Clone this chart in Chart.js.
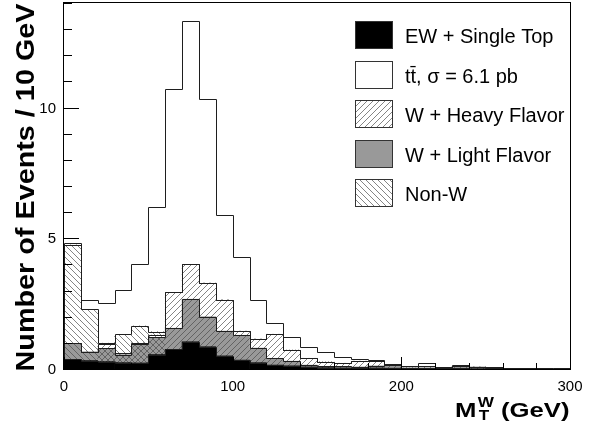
<!DOCTYPE html>
<html lang="en">
<head>
<meta charset="UTF-8">
<title>Transverse W mass</title>
<script src="https://cdn.jsdelivr.net/npm/chart.js"></script>
<style>
  html, body { margin: 0; padding: 0; background: #fff; }
  #wrap { width: 599px; height: 434px; }
</style>
</head>
<body>
<div id="wrap"><canvas id="mtw" width="599" height="434"></canvas></div>
<script>
// 10 GeV bins, lower edges (GeV)
const binLow = [0, 10, 20, 30, 40, 50, 60, 70, 80, 90,
                100, 110, 120, 130, 140, 150, 160, 170, 180, 190,
                200, 210, 220, 230, 240, 250, 260, 270, 280, 290];
const binHigh = 300;

// events per bin, stacked bottom to top
const ewSingleTop = [0.37, 0.32, 0.28, 0.24, 0.23, 0.55, 0.75, 1.04, 0.85, 0.50,
                     0.34, 0.24, 0.15, 0.12, 0.08, 0.05, 0.04, 0.03, 0.04, 0.03,
                     0.02, 0.02, 0.02, 0.02, 0.01, 0.01, 0.01, 0.01, 0.00, 0.00];
const wLightFlavor = [0.61, 0.34, 0.51, 0.31, 0.72, 0.66, 0.81, 1.63, 1.15, 0.95,
                      0.95, 0.56, 0.26, 0.18, 0.07, 0.05, 0.06, 0.05, 0.08, 0.12,
                      0.03, 0.03, 0.00, 0.08, 0.07, 0.02, 0.01, 0.00, 0.01, 0.01];
const wHeavyFlavor = [0.00, 0.00, 0.15, 0.05, 0.06, 0.09, 1.37, 1.33, 1.29, 1.20,
                      0.16, 0.35, 0.92, 0.43, 0.26, 0.18, 0.12, 0.22, 0.18, 0.00,
                      0.00, 0.05, 0.00, 0.00, 0.00, 0.00, 0.00, 0.00, 0.00, 0.00];
const nonW = [3.77, 1.62, 0.05, 0.72, 0.64, 0.13, 0.00, 0.00, 0.00, 0.00,
              0.00, 0.00, 0.00, 0.00, 0.00, 0.00, 0.00, 0.00, 0.00, 0.00,
              0.00, 0.00, 0.00, 0.00, 0.00, 0.00, 0.00, 0.00, 0.00, 0.00];
const ttbar = [0.06, 0.36, 1.55, 1.70, 2.37, 4.78, 7.78, 9.33, 7.05, 3.24,
               2.83, 1.49, 0.42, 0.48, 0.44, 0.37, 0.22, 0.07, 0.04, 0.04,
               0.08, 0.12, 0.04, 0.05, 0.01, 0.03, 0.02, 0.02, 0.02, 0.01];

const yTicks = [0, 5, 10];
const xTicks = [0, 100, 200, 300];
const yMax = 14;
const legendLabels = ['EW + Single Top', 't\u0074\u0304, \u03c3 = 6.1 pb',
                      'W + Heavy Flavor', 'W + Light Flavor', 'Non-W'];

const canvas = document.getElementById('mtw');
const mainCtx = canvas.getContext('2d');
const FONT = '"Liberation Sans", Arial, Helvetica, sans-serif';

// hatch patterns like ROOT's 3004 / 3005
function hatch(dirs, bg, ink) {
    const s = 6;
    const c = document.createElement('canvas');
    c.width = s; c.height = s;
    const g = c.getContext('2d');
    if (bg) { g.fillStyle = bg; g.fillRect(0, 0, s, s); }
    g.strokeStyle = ink;
    g.lineWidth = 0.8;
    g.beginPath();
    if (dirs.includes('/')) {
        g.moveTo(-1, s + 1); g.lineTo(s + 1, -1);
        g.moveTo(-1, 1); g.lineTo(1, -1);
        g.moveTo(s - 1, s + 1); g.lineTo(s + 1, s - 1);
    }
    if (dirs.includes('\\')) {
        g.moveTo(-1, -1); g.lineTo(s + 1, s + 1);
        g.moveTo(s - 1, -1); g.lineTo(s + 1, 1);
        g.moveTo(-1, s - 1); g.lineTo(1, s + 1);
    }
    g.stroke();
    return mainCtx.createPattern(c, 'repeat');
}

const GRAY = '#999999';
const fwd = hatch('/', null, '#666');
const back = hatch('\\', null, '#666');
const grayFwd = hatch('/', GRAY, '#555');
const grayBack = hatch('\\', GRAY, '#555');
const grayCross = hatch('/\\', GRAY, '#555');

// gray region shows whichever hatch lies over it
function lightFill(c) {
    const i = c.dataIndex;
    const n = nonW[i] > 0.02, h = wHeavyFlavor[i] > 0.02;
    if (n && h) return grayCross;
    return n ? grayBack : grayFwd;
}

function bar(label, data, fill) {
    return {
        label, data, backgroundColor: fill, borderWidth: 0,
        barPercentage: 1, categoryPercentage: 1
    };
}

// cumulative tops, used for the histogram step outlines
const layers = [ewSingleTop, wLightFlavor, wHeavyFlavor, nonW, ttbar];
const cumulative = layers.map((_, j) =>
    binLow.map((_, i) => layers.slice(0, j + 1).reduce((s, arr) => s + arr[i], 0)));

const steps = {
    id: 'steps',
    afterDatasetsDraw(chart) {
        const { ctx, scales } = chart;
        const x = scales.xl, y = scales.y;
        const px = v => Math.round(x.getPixelForValue(v)) + 0.5;
        const py = v => Math.round(y.getPixelForValue(v)) + 0.5;
        ctx.save();
        ctx.strokeStyle = '#1e1e1e';
        ctx.lineWidth = 1;
        cumulative.forEach(vals => {
            ctx.beginPath();
            ctx.moveTo(px(binLow[0]), py(0));
            vals.forEach((v, i) => {
                ctx.lineTo(px(binLow[i]), py(v));
                ctx.lineTo(px(i + 1 < binLow.length ? binLow[i + 1] : binHigh), py(v));
            });
            ctx.lineTo(px(binHigh), py(0));
            ctx.stroke();
        });
        ctx.restore();
    }
};

const decor = {
    id: 'decor',
    afterDraw(chart) {
        const { ctx, chartArea: a, scales } = chart;
        const y = scales.y, x = scales.xl;
        ctx.save();
        ctx.strokeStyle = '#000';
        ctx.lineWidth = 1;
        ctx.strokeRect(a.left - 0.5, a.top - 0.5, a.right - a.left + 1, a.bottom - a.top + 1);

        // inward ticks
        ctx.beginPath();
        for (let v = 0; v <= yMax; v += 1) {
            const py = Math.round(y.getPixelForValue(v)) + 0.5;
            const len = yTicks.includes(v) ? 15 : 8;
            ctx.moveTo(a.left, py); ctx.lineTo(a.left + len, py);
        }
        for (let v = 0; v <= binHigh; v += 20) {
            const px = Math.round(x.getPixelForValue(v)) + 0.5;
            const len = xTicks.includes(v) ? 12 : 6;
            ctx.moveTo(px, a.bottom); ctx.lineTo(px, a.bottom - len);
        }
        ctx.stroke();

        // tick labels
        ctx.fillStyle = '#000';
        ctx.font = '15px ' + FONT;
        ctx.textAlign = 'right';
        ctx.textBaseline = 'alphabetic';
        yTicks.forEach(v => ctx.fillText(String(v), 56, y.getPixelForValue(v) + 5));
        ctx.textAlign = 'center';
        xTicks.forEach(v => ctx.fillText(String(v), x.getPixelForValue(v), 391));

        // y title, stretched along its run
        ctx.save();
        ctx.font = 'bold 25px ' + FONT;
        const yt = 'Number of Events / 10 GeV';
        const k = 368 / ctx.measureText(yt).width;
        ctx.translate(33.5, 3.5);
        ctx.rotate(-Math.PI / 2);
        ctx.scale(k, 1);
        ctx.textAlign = 'right';
        ctx.fillText(yt, 0, 0);
        ctx.restore();

        // x title M_T^W (GeV)
        ctx.save();
        ctx.textAlign = 'left';
        ctx.font = 'bold 21px ' + FONT;
        const wM = ctx.measureText('M').width;
        const rest = ' (GeV)';
        const wRest = ctx.measureText(rest).width;
        ctx.font = 'bold 14px ' + FONT;
        const wW = ctx.measureText('W').width;
        const total = wM + 1 + wW + wRest;
        const k2 = (569.5 - 455) / total;
        ctx.translate(455, 0);
        ctx.scale(k2, 1);
        ctx.fillText('W', wM + 1, 407);
        ctx.fillText('T', wM + 2, 420);
        ctx.font = 'bold 21px ' + FONT;
        ctx.fillText('M', 0, 416.5);
        ctx.fillText(rest, wM + 1 + wW, 416.5);
        ctx.restore();

        // legend
        const fills = ['#000', '#fff', fwd, GRAY, back];
        ctx.font = '20px ' + FONT;
        ctx.textAlign = 'left';
        legendLabels.forEach((lab, i) => {
            const top = Math.round(21 + 39.6 * i);
            ctx.fillStyle = fills[i];
            ctx.fillRect(355, top, 38, 28);
            ctx.strokeStyle = '#333';
            ctx.strokeRect(355.5, top + 0.5, 37, 27);
            ctx.fillStyle = '#000';
            ctx.fillText(lab, 405, 43 + 39.6 * i);
        });
        ctx.restore();
    }
};

new Chart(canvas, {
    type: 'bar',
    data: {
        labels: binLow.map(String),
        datasets: [
            bar(legendLabels[0], ewSingleTop, '#000'),
            bar(legendLabels[3], wLightFlavor, lightFill),
            bar(legendLabels[2], wHeavyFlavor, fwd),
            bar(legendLabels[4], nonW, back),
            bar(legendLabels[1], ttbar, '#fff')
        ]
    },
    options: {
        responsive: false,
        animation: false,
        layout: { padding: { left: 64, right: 29, top: 3, bottom: 65 } },
        datasets: { bar: { barPercentage: 1, categoryPercentage: 1 } },
        plugins: { legend: { display: false }, tooltip: { enabled: false } },
        scales: {
            x: { type: 'category', display: false, stacked: true, offset: true },
            xl: { type: 'linear', axis: 'x', display: false, min: 0, max: binHigh, offset: false },
            y: { display: false, stacked: true, min: 0, max: yMax }
        }
    },
    plugins: [steps, decor]
});
</script>
</body>
</html>
